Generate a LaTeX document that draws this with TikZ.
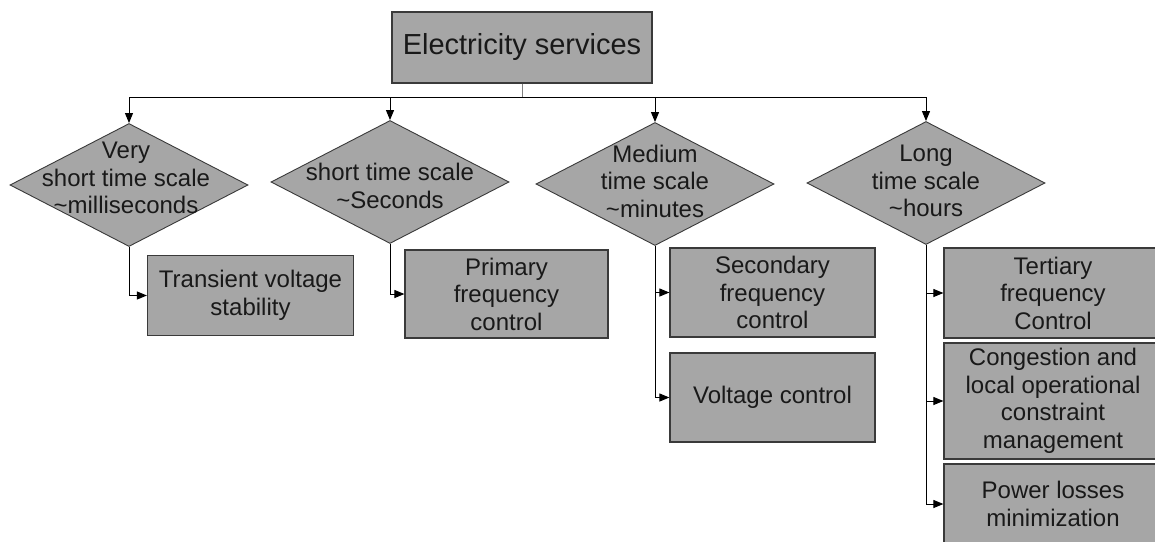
\documentclass[tikz,border=0pt]{standalone}
\usepackage{fontspec}
\setmainfont{Liberation Sans}
\usetikzlibrary{shapes.geometric,arrows.meta,calc}
\definecolor{boxfill}{HTML}{A6A6A6}
\definecolor{edge}{HTML}{3A3A3A}
\begin{document}
\begin{tikzpicture}[x=1pt,y=1pt,
  txt/.style={font=\fontsize{24}{27.5}\selectfont, text=black!90},
  svc/.style={txt, draw=edge, line width=1.2pt, fill=boxfill, rectangle, align=center, inner sep=0pt},
  dia/.style={draw=edge, line width=0.9pt, fill=boxfill, diamond, inner sep=0pt, minimum width=238pt, minimum height=123pt},
  dtext/.style={txt, align=center, inner sep=0pt},
  arr/.style={draw=black, line width=1pt, -{Triangle[length=10pt,width=8pt]}},
]
\useasboundingbox (0,0) rectangle (1155,-541);
\fill[white] (0,0) rectangle (1155,-541);
\clip (0,0) rectangle (1155,-541);

% top box
\node[svc, font=\fontsize{29}{34}\selectfont, minimum width=260pt, minimum height=71pt] (top) at (522,-47.5) {Electricity services};
\coordinate (bus) at (522,-97);

% diamonds
\node[dia] (d1) at (129,-185) {};
\node[dia] (d2) at (390,-182) {};
\node[dia] (d3) at (655,-184) {};
\node[dia] (d4) at (926,-183) {};
\node[dtext] (t1) at (126,-178) {Very\\short time scale\\\textasciitilde milliseconds};
\node[dtext] (t2) at (390,-186) {short time scale\\\textasciitilde Seconds};
\node[dtext] (t3) at (655,-181) {Medium\\time scale\\\textasciitilde minutes};
\node[dtext] (t4) at (926,-181) {Long\\time scale\\\textasciitilde hours};

% service boxes
\node[svc, minimum width=206pt, minimum height=80pt] (bA) at (250.5,-295.5) {Transient voltage\\stability};
\node[svc, minimum width=203pt, minimum height=88pt] (bB) at (506.5,-294) {Primary\\frequency\\control};
\node[svc, minimum width=205pt, minimum height=89pt] (bC) at (772.5,-292.5) {Secondary\\frequency\\control};
\node[svc, minimum width=205pt, minimum height=89pt] (bD) at (772.5,-397.5) {Voltage control};
\node[svc, minimum width=218pt, minimum height=90pt] (bE) at (1053,-293) {Tertiary\\frequency\\Control};
\node[svc, minimum width=218pt, minimum height=116pt] (bF) at (1053,-401) {Congestion and\\local operational\\constraint\\management};
\node[svc, minimum width=218pt, minimum height=80pt] (bG) at (1053,-504) {Power losses\\minimization};

% connectors
\draw[gray, line width=0.8pt] (top.south) -- (bus);
\draw[arr] (bus) -| (d1.north);
\draw[arr] (bus) -| (d2.north);
\draw[arr] (bus) -| (d3.north);
\draw[arr] (bus) -| (d4.north);
\draw[arr] (d1.south) |- (bA.west);
\draw[arr] (d2.south) |- (bB.west);
\draw[arr] (d3.south) |- (bC.west);
\draw[arr] (d3.south) |- (bD.west);
\draw[arr] (d4.south) |- (bE.west);
\draw[arr] (d4.south) |- (bF.west);
\draw[arr] (d4.south) |- (bG.west);
\end{tikzpicture}
\end{document}
